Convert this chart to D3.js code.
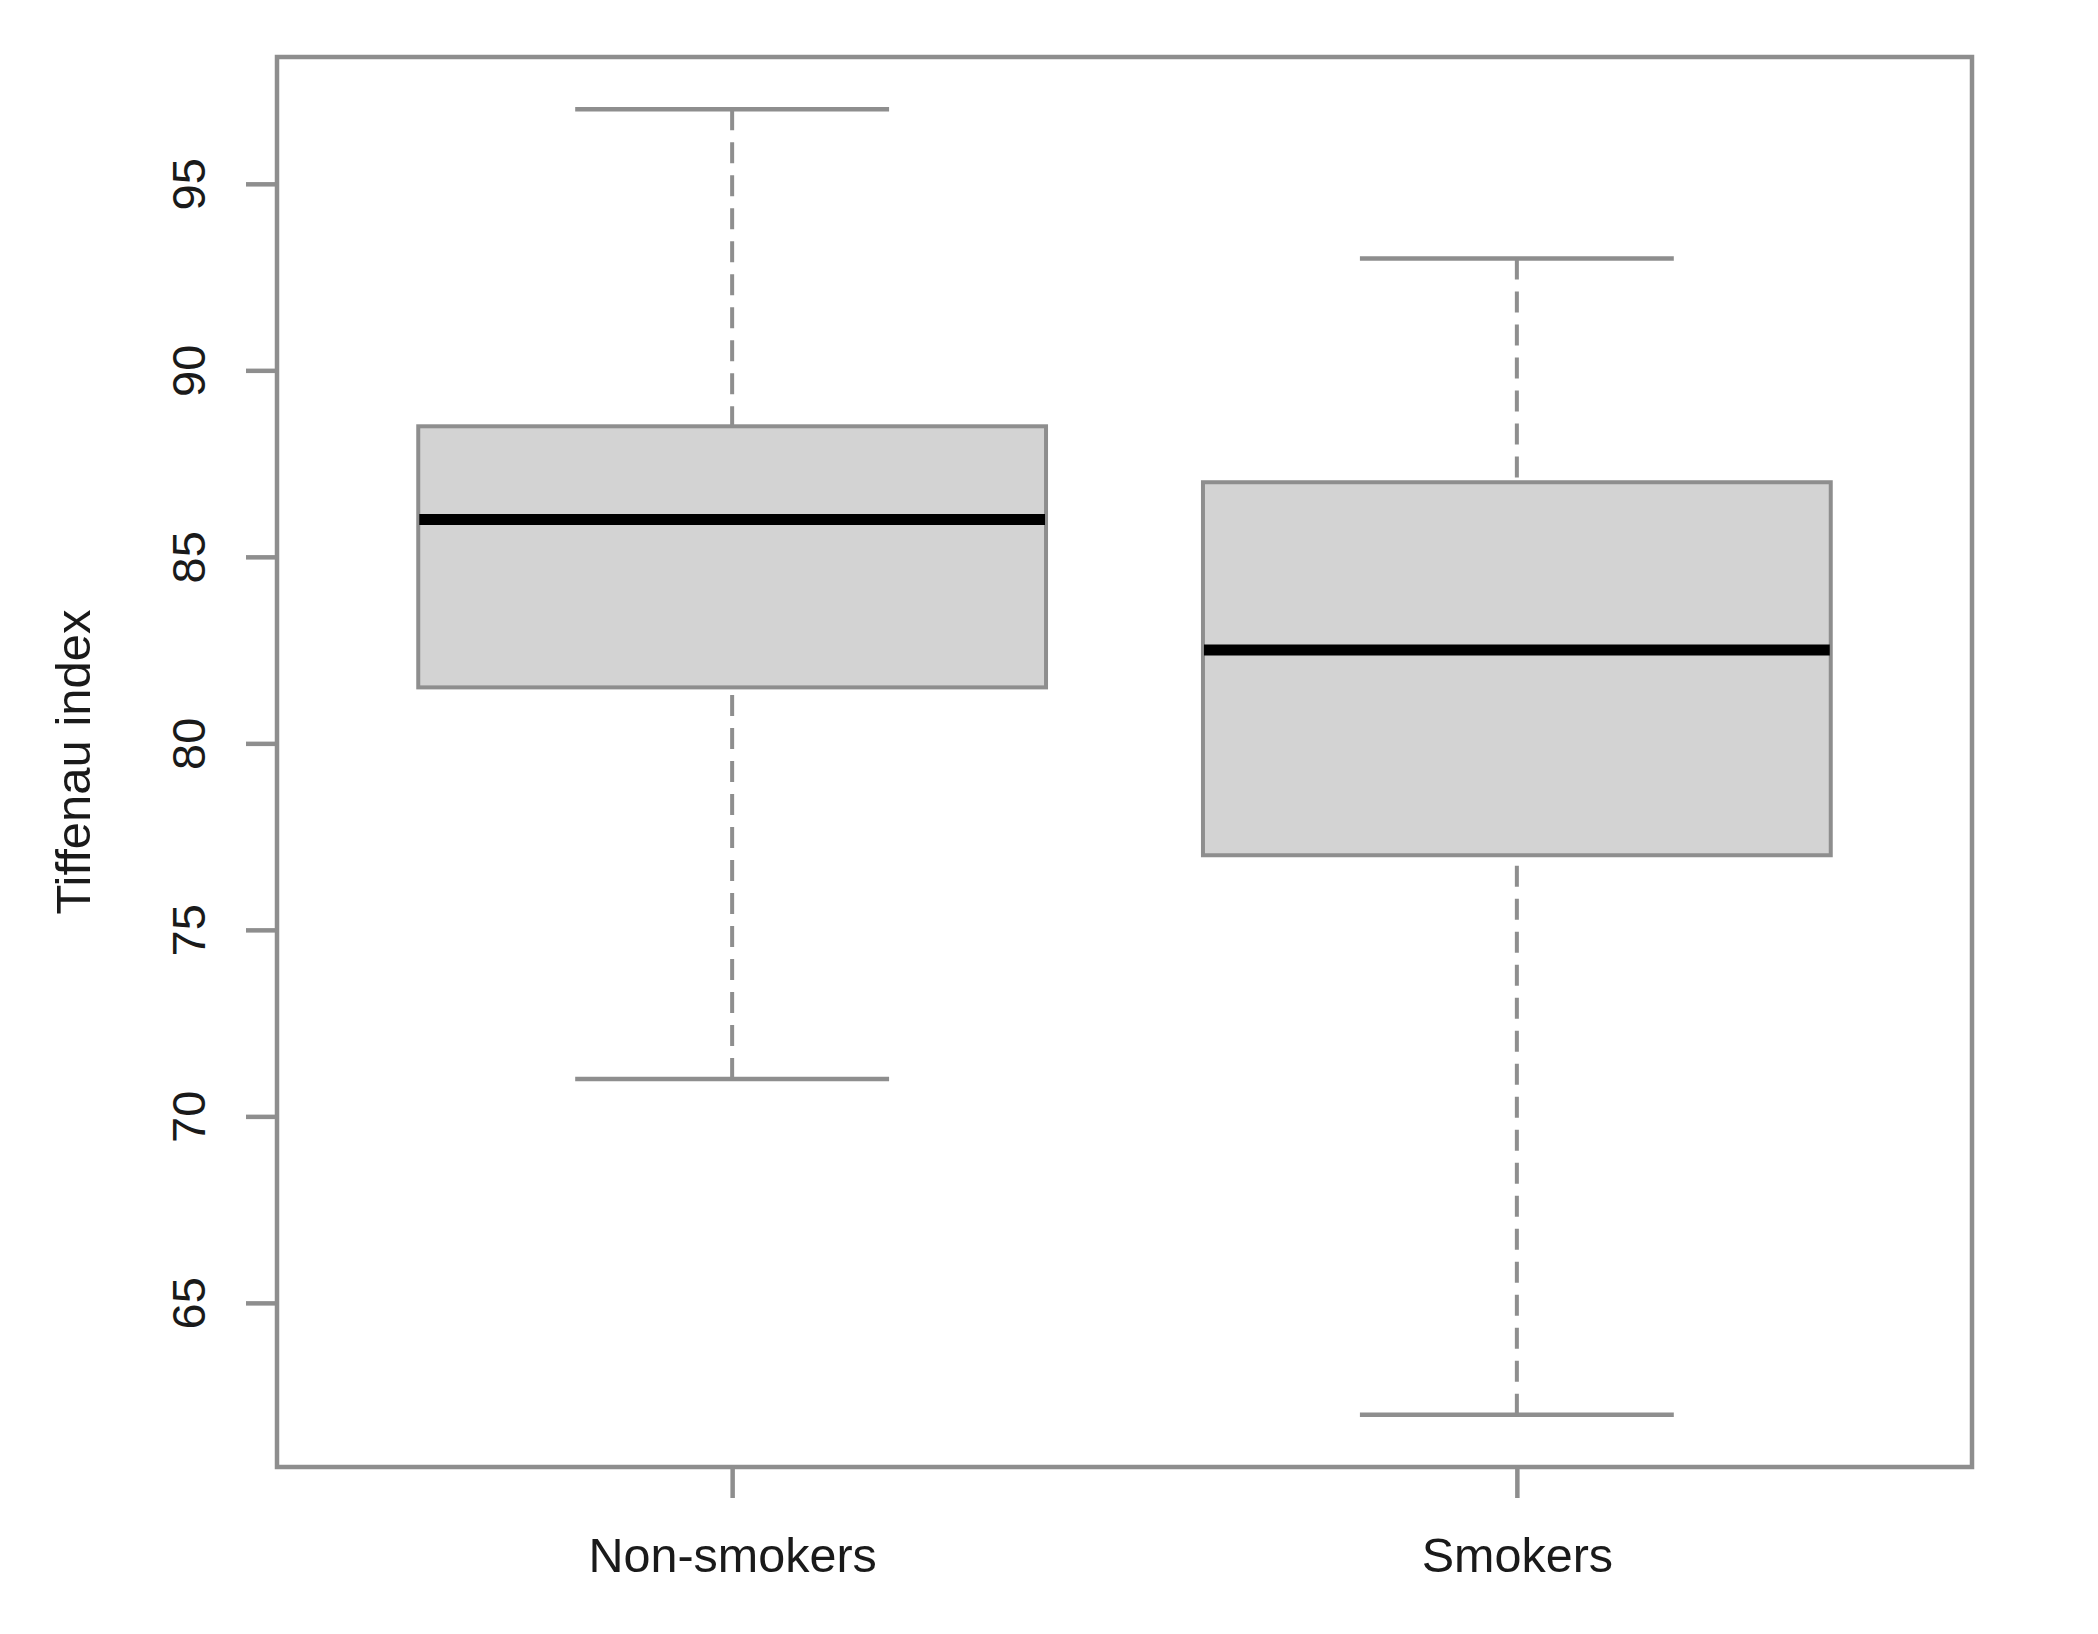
<!DOCTYPE html>
<html>
<head>
<meta charset="utf-8">
<script src="https://cdn.jsdelivr.net/npm/d3@7"></script>
<style>
  html, body { margin: 0; padding: 0; background: #fff; }
  text { font-family: "Liberation Sans", Arial, sans-serif; fill: #1a1a1a; }
</style>
</head>
<body>
<div class="chartRoot"></div>
<script>
(function () {
    'use strict';

    // data (five-number summaries)
    var groups = ["Non-smokers", "Smokers"];
    var whiskerLow = [71, 62];
    var q1 = [81.5, 77];
    var median = [86, 82.5];
    var q3 = [88.5, 87];
    var whiskerHigh = [97, 93];
    var yTicks = [65, 70, 75, 80, 85, 90, 95];
    var yLabel = "Tiffenau index";

    var w = 2098,
        h = 1634;
    var left = 277, right = 1972, top = 57, bottom = 1467;
    var lineCol = "#8e8e8e";

    var svg = d3.select("div.chartRoot").append("svg")
        .attr("width", w)
        .attr("height", h);

    // R style 4% axis extension
    var lo = d3.min(whiskerLow), hi = d3.max(whiskerHigh);
    var pad = (hi - lo) * 0.04;
    var y = d3.scaleLinear()
        .domain([lo - pad, hi + pad])
        .range([bottom, top]);

    var xPad = groups.length * 0.04;
    var x = d3.scaleLinear()
        .domain([0.5 - xPad, groups.length + 0.5 + xPad])
        .range([left, right]);

    var boxes = groups.map(function (g, i) {
        return { name: g, pos: i + 1, lo: whiskerLow[i], q1: q1[i], med: median[i], q3: q3[i], hi: whiskerHigh[i] };
    });

    var bw = 0.4, cw = 0.2;

    var g = svg.append("g");

    // whiskers (dashed, from whisker end to box)
    g.selectAll("line.wlo")
        .data(boxes)
        .enter().append("line")
        .attr("x1", function (d) { return x(d.pos); })
        .attr("x2", function (d) { return x(d.pos); })
        .attr("y1", function (d) { return y(d.lo); })
        .attr("y2", function (d) { return y(d.q1); })
        .style("stroke", lineCol)
        .style("stroke-width", 4)
        .style("stroke-dasharray", "21,12");

    g.selectAll("line.whi")
        .data(boxes)
        .enter().append("line")
        .attr("x1", function (d) { return x(d.pos); })
        .attr("x2", function (d) { return x(d.pos); })
        .attr("y1", function (d) { return y(d.hi); })
        .attr("y2", function (d) { return y(d.q3); })
        .style("stroke", lineCol)
        .style("stroke-width", 4)
        .style("stroke-dasharray", "21,12");

    // caps
    ["lo", "hi"].forEach(function (k) {
        g.selectAll("line.cap" + k)
            .data(boxes)
            .enter().append("line")
            .attr("x1", function (d) { return x(d.pos - cw); })
            .attr("x2", function (d) { return x(d.pos + cw); })
            .attr("y1", function (d) { return y(d[k]); })
            .attr("y2", function (d) { return y(d[k]); })
            .style("stroke", lineCol)
            .style("stroke-width", 4.5);
    });

    // boxes
    g.selectAll("rect.box")
        .data(boxes)
        .enter().append("rect")
        .attr("x", function (d) { return x(d.pos - bw); })
        .attr("width", function (d) { return x(d.pos + bw) - x(d.pos - bw); })
        .attr("y", function (d) { return y(d.q3); })
        .attr("height", function (d) { return y(d.q1) - y(d.q3); })
        .style("fill", "#d3d3d3")
        .style("stroke", lineCol)
        .style("stroke-width", 4);

    // medians
    g.selectAll("line.med")
        .data(boxes)
        .enter().append("line")
        .attr("x1", function (d) { return x(d.pos - bw) + 1; })
        .attr("x2", function (d) { return x(d.pos + bw) - 1; })
        .attr("y1", function (d) { return y(d.med); })
        .attr("y2", function (d) { return y(d.med); })
        .style("stroke", "#000")
        .style("stroke-width", 11);

    // frame
    svg.append("rect")
        .attr("x", left)
        .attr("y", top)
        .attr("width", right - left)
        .attr("height", bottom - top)
        .style("fill", "none")
        .style("stroke", lineCol)
        .style("stroke-width", 4.5);

    // y axis
    var yAxis = svg.append("g")
        .attr("transform", "translate(" + left + ",0)")
        .call(d3.axisLeft(y).tickValues(yTicks).tickSize(31).tickSizeOuter(0));
    yAxis.select(".domain").remove();
    yAxis.selectAll(".tick line").style("stroke", lineCol).style("stroke-width", 4.5);
    yAxis.selectAll(".tick text")
        .attr("x", null).attr("dy", null)
        .attr("transform", "translate(-72,0) rotate(-90)")
        .attr("text-anchor", "middle")
        .style("font-size", "47px")
        .style("font-family", '"Liberation Sans", Arial, sans-serif')
        .style("fill", "#1a1a1a");

    // x axis
    var xAxis = svg.append("g")
        .attr("transform", "translate(0," + bottom + ")")
        .call(d3.axisBottom(x)
            .tickValues(boxes.map(function (d) { return d.pos; }))
            .tickFormat(function (d) { return groups[d - 1]; })
            .tickSize(31).tickSizeOuter(0));
    xAxis.select(".domain").remove();
    xAxis.selectAll(".tick line").style("stroke", lineCol).style("stroke-width", 4.5);
    xAxis.selectAll(".tick text")
        .attr("y", 105).attr("dy", null)
        .style("font-size", "48.5px")
        .style("font-family", '"Liberation Sans", Arial, sans-serif')
        .style("fill", "#1a1a1a");

    // y label
    svg.append("text")
        .attr("transform", "translate(90," + ((top + bottom) / 2) + ") rotate(-90)")
        .attr("text-anchor", "middle")
        .style("font-size", "49px")
        .text(yLabel);
})();
</script>
</body>
</html>
